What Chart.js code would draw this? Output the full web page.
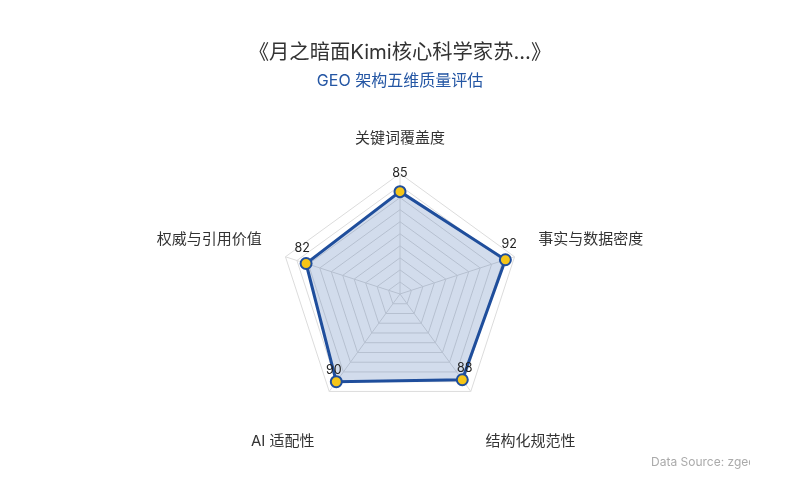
<!DOCTYPE html>
<html>
<head>
<meta charset="utf-8">
<script src="https://cdn.jsdelivr.net/npm/chart.js@4"></script>
<style>
  html, body { margin: 0; padding: 0; background: #ffffff; }
  #wrap { position: relative; width: 800px; height: 500px; }
  #src { position: absolute; left: 651px; top: 454px; width: 99px; overflow: hidden; white-space: nowrap;
         font: 12px Inter, "Noto Sans CJK SC", sans-serif; color: #aaaaaa; }
</style>
</head>
<body>
<div id="wrap">
  <canvas id="c" width="800" height="500"></canvas>
  <div id="src">Data Source: zgeo.ai</div>
</div>
<script>
const titleText = '《月之暗面Kimi核心科学家苏...》';
const subtitleText = 'GEO 架构五维质量评估';
const categories = ['关键词覆盖度', '事实与数据密度', '结构化规范性', 'AI 适配性', '权威与引用价值'];
const scores = [85, 92, 88, 90, 82];
const scaleMin = 0;
const scaleMax = 100;
const scaleStep = 10;

const FONT = 'Inter, "Noto Sans CJK SC", sans-serif';
const LINE = '#1f4e9c';

// bottom labels get an empty first line so they sit lower, like the reference
const labels = categories.map((c, i) => (i === 2 || i === 3) ? ['', c] : c);

const valueLabels = {
  id: 'valueLabels',
  afterDatasetsDraw(chart) {
    const meta = chart.getDatasetMeta(0);
    const sc = chart.scales.r;
    const ctx = chart.ctx;
    ctx.save();
    ctx.font = '12.5px ' + FONT;
    ctx.fillStyle = '#222222';
    ctx.textAlign = 'center';
    ctx.textBaseline = 'middle';
    meta.data.forEach((p, i) => {
      const dx = p.x - sc.xCenter, dy = p.y - sc.yCenter;
      const d = Math.hypot(dx, dy) || 1;
      const off = 14.5 - 4 * dy / d;
      ctx.fillText(String(scores[i]), p.x + 4 * dx / d, p.y - off);
    });
    ctx.restore();
  }
};

new Chart(document.getElementById('c'), {
  type: 'radar',
  data: {
    labels: labels,
    datasets: [{
      data: scores,
      borderColor: LINE,
      borderWidth: 3,
      backgroundColor: 'rgba(31,78,160,0.2)',
      pointBackgroundColor: '#f5c518',
      pointBorderColor: LINE,
      pointBorderWidth: 2,
      pointRadius: 5.5,
      fill: true
    }]
  },
  options: {
    responsive: false,
    animation: false,
    layout: { padding: { top: 0, bottom: 45, left: 0, right: 0 } },
    plugins: {
      legend: { display: false },
      tooltip: { enabled: false },
      title: {
        display: true, text: titleText, color: '#333333',
        font: { family: FONT, size: 20.3, weight: 'normal' },
        padding: { top: 41, bottom: 6 }
      },
      subtitle: {
        display: true, text: subtitleText, color: '#2456a4',
        font: { family: FONT, size: 16, weight: 'normal' },
        padding: { top: 0, bottom: 33 }
      }
    },
    scales: {
      r: {
        min: scaleMin, max: scaleMax,
        ticks: { display: false, stepSize: scaleStep },
        grid: { color: '#dcdcdc', lineWidth: 1 },
        angleLines: { color: '#dcdcdc', lineWidth: 1 },
        pointLabels: {
          color: '#333333',
          padding: 25,
          font: { family: FONT, size: 15, lineHeight: '20px' }
        }
      }
    }
  },
  plugins: [valueLabels]
});
</script>
</body>
</html>
